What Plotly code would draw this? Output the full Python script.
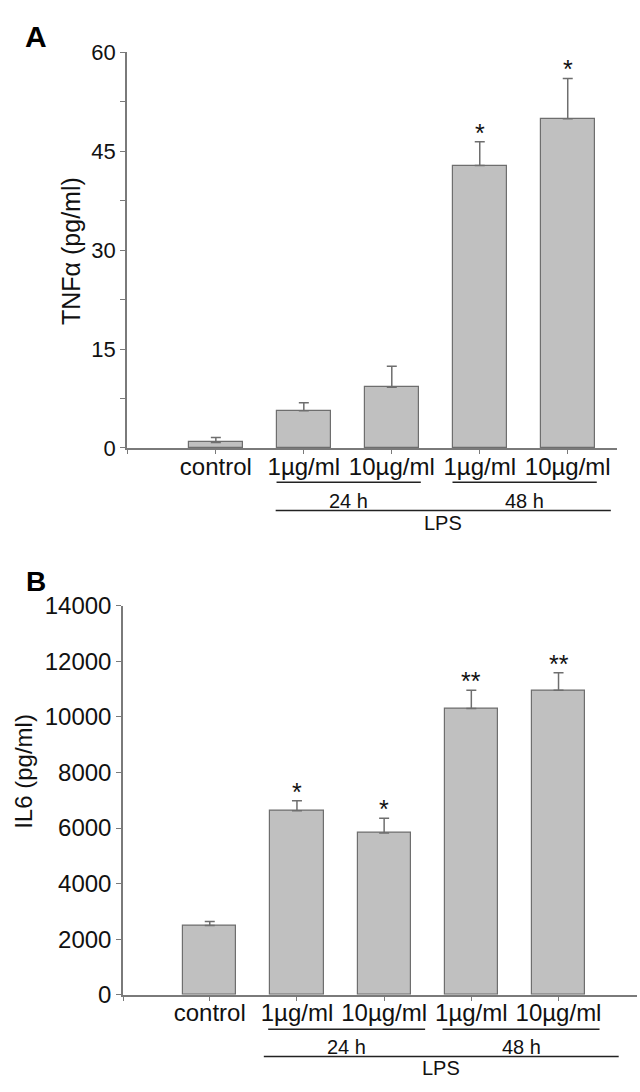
import plotly.graph_objects as go

# ---------------- data ----------------
categories = ["control", "1µg/ml", "10µg/ml", "1µg/ml", "10µg/ml"]
tnf_mean = [0.85, 5.65, 9.2, 42.8, 49.9]
tnf_err = [0.75, 1.2, 3.2, 3.6, 6.1]
tnf_sig = ["", "", "", "*", "*"]
il6_mean = [2490, 6620, 5820, 10300, 10960]
il6_err = [150, 360, 530, 660, 630]
il6_sig = ["", "*", "*", "**", "**"]
time_groups = [("24 h", 1, 2), ("48 h", 3, 4)]
treatment_group = ("LPS", 1, 4)

W, H = 640, 1092
FONT = "Liberation Sans, Arial, sans-serif"
BAR_FILL = "#c0c0c0"
BAR_LINE = "#6e6e6e"
AXIS_COL = "#7a7a7a"
BAR_W = 0.61


def px(p):
    return p / W


def py(p):
    return 1 - p / H


fig = go.Figure()

panels = [
    dict(xa="x", ya="y", xname="xaxis", yname="yaxis", mean=tnf_mean, err=tnf_err, sig=tnf_sig,
         xdom=(127, 617), ydom=(445, 39), xr=(-1.01, 4.56), yr=(0, 60), dtick=15, minor=7.5,
         ticksize=22, ylabel="TNFα (pg/ml)", ylab_xy=(71.5, 243.5), ylab_size=25,
         letter="A", letter_xy=(36, 23), letter_size=30,
         line1=480, lab1=499, line2=509, lab2=522, g_ext=(0.31, 0.33), lps_ext=(0.32, 0.49)),
    dict(xa="x2", ya="y2", xname="xaxis2", yname="yaxis2", mean=il6_mean, err=il6_err, sig=il6_sig,
         xdom=(123, 637), ydom=(1005.7, 606.7), xr=(-0.995, 4.9), yr=(0, 14000), dtick=2000, minor=None,
         ticksize=24, ylabel="IL6 (pg/ml)", ylab_xy=(23.5, 776.5), ylab_size=24,
         letter="B", letter_xy=(36, 582), letter_size=28,
         line1=1041, lab1=1059, line2=1069, lab2=1081, g_ext=(0.33, 0.47), lps_ext=(0.38, 0.69)),
]

annotations = []
shapes = []
for p in panels:
    xs = list(range(len(categories)))
    fig.add_trace(go.Bar(
        x=xs, y=p["mean"], width=BAR_W, xaxis=p["xa"], yaxis=p["ya"],
        marker=dict(color=BAR_FILL, line=dict(color=BAR_LINE, width=1.2)),
        error_y=dict(type="data", symmetric=False, array=p["err"], arrayminus=[0] * len(xs),
                     color=BAR_LINE, thickness=1.5, width=5),
        showlegend=False, hoverinfo="skip",
    ))
    tickvals = [p["xr"][0]] + xs
    ticktext = [""] + categories
    xaxis = dict(
        domain=[px(p["xdom"][0]), px(p["xdom"][1])], range=list(p["xr"]), anchor=p["ya"],
        showline=True, linecolor=AXIS_COL, linewidth=1.5, showgrid=False, zeroline=False,
        ticks="outside", ticklen=4, tickcolor=AXIS_COL, tickwidth=1.2,
        tickvals=tickvals, ticktext=ticktext, ticklabelstandoff=-8,
        tickfont=dict(family=FONT, size=24, color="#111"),
    )
    yaxis = dict(
        domain=[py(p["ydom"][0]), py(p["ydom"][1])], range=list(p["yr"]), anchor=p["xa"],
        showline=True, linecolor=AXIS_COL, linewidth=1.5, showgrid=False, zeroline=False,
        ticks="outside", ticklen=5, tickcolor=AXIS_COL, tickwidth=1.2,
        dtick=p["dtick"], tick0=0, tickformat="d",
        tickfont=dict(family=FONT, size=p["ticksize"], color="#111"),
    )
    if p["minor"]:
        yaxis["minor"] = dict(dtick=p["minor"], ticks="outside", ticklen=5, tickcolor=AXIS_COL, tickwidth=1.2)
    fig.update_layout({p["xname"]: xaxis, p["yname"]: yaxis})

    # significance stars
    for i, s in enumerate(p["sig"]):
        if s:
            annotations.append(dict(
                x=i, y=p["mean"][i] + p["err"][i], xref=p["xa"], yref=p["ya"],
                text=s, showarrow=False, xanchor="center", yanchor="bottom", yshift=-7,
                font=dict(family=FONT, size=25, color="#111"),
            ))

    # group lines
    for name, a, b in time_groups:
        x0 = a - p["g_ext"][0]
        x1 = b + p["g_ext"][1]
        shapes.append(dict(type="line", xref=p["xa"], yref="paper", x0=x0, x1=x1,
                           y0=py(p["line1"]), y1=py(p["line1"]), line=dict(color="#222", width=1.5)))
        annotations.append(dict(x=(x0 + x1) / 2, y=py(p["lab1"]), xref=p["xa"], yref="paper",
                                xanchor="center", yanchor="middle",
                                text=name, showarrow=False, font=dict(family=FONT, size=20, color="#111")))
    name, a, b = treatment_group
    x0 = a - p["lps_ext"][0]
    x1 = b + p["lps_ext"][1]
    shapes.append(dict(type="line", xref=p["xa"], yref="paper", x0=x0, x1=x1,
                       y0=py(p["line2"]), y1=py(p["line2"]), line=dict(color="#222", width=1.5)))
    annotations.append(dict(x=(x0 + x1) / 2, y=py(p["lab2"]), xref=p["xa"], yref="paper",
                            xanchor="center", yanchor="middle",
                            text=name, showarrow=False, font=dict(family=FONT, size=20, color="#111")))

    # y axis title
    annotations.append(dict(x=px(p["ylab_xy"][0]), y=py(p["ylab_xy"][1]), xref="paper", yref="paper",
                            xanchor="center", yanchor="middle",
                            text=p["ylabel"], textangle=-90, showarrow=False,
                            font=dict(family=FONT, size=p["ylab_size"], color="#111")))
    # panel letter
    annotations.append(dict(x=px(p["letter_xy"][0]), y=py(p["letter_xy"][1]), xref="paper", yref="paper",
                            xanchor="center", yanchor="middle",
                            text="<b>%s</b>" % p["letter"], showarrow=False,
                            font=dict(family=FONT, size=p["letter_size"], color="#000")))

fig.update_layout(
    width=W, height=H, margin=dict(l=0, r=0, t=0, b=0),
    paper_bgcolor="white", plot_bgcolor="white",
    annotations=annotations, shapes=shapes, bargap=0, hovermode=False,
)

# remove the browser's default 8px body margin so the figure fills the window exactly
fig.write_html("out.html", config={"displayModeBar": False},
               post_script="document.body.style.margin='0px';")
